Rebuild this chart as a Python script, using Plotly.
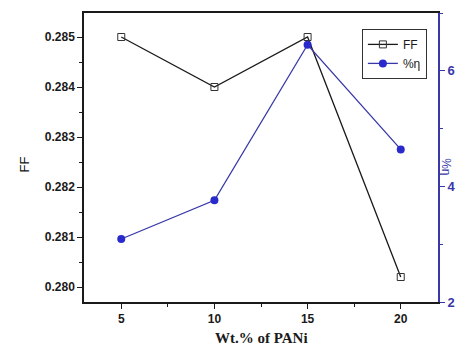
import plotly.graph_objects as go

wt = [5, 10, 15, 20]
ff = [0.285, 0.284, 0.285, 0.2802]
eta = [3.09, 3.76, 6.45, 4.64]

blue = "#2a2acc"
axblue = "#3838a8"
black = "#1a1a1a"

fig = go.Figure()
fig.add_trace(go.Scatter(x=wt, y=ff, name="FF", mode="lines+markers",
                         line=dict(color=black, width=1.3),
                         marker=dict(symbol="square-open", size=7, color="#333333", line=dict(width=1))))
fig.add_trace(go.Scatter(x=wt, y=eta, name="%η", mode="lines+markers", yaxis="y2",
                         line=dict(color=axblue, width=1.3),
                         marker=dict(symbol="circle", size=8, color=blue)))

tickfont = dict(family="Arial, Liberation Sans", size=12, color=black)
fig.update_layout(
    width=475, height=347,
    margin=dict(l=84, r=37, t=13, b=45, autoexpand=False),
    paper_bgcolor="white", plot_bgcolor="white",
    showlegend=True,
    legend=dict(x=0.785, y=0.945, xanchor="left", yanchor="top",
                bordercolor="#333333", borderwidth=1, bgcolor="white",
                font=dict(family="Arial, Liberation Sans", size=12, color=black),
                itemwidth=30, tracegroupgap=0),
    xaxis=dict(range=[3, 22], tickvals=wt, ticktext=[f"<b>{v}</b>" for v in wt],
               ticks="outside", ticklen=5, tickcolor=black, automargin=False,
               showline=True, linecolor=black, linewidth=1.5, mirror=True,
               showgrid=False, zeroline=False, tickfont=tickfont,
               minor=dict(tickvals=[7.5, 12.5, 17.5], ticks="outside", ticklen=3, tickcolor=black)),
    yaxis=dict(range=[0.2797, 0.28548], tick0=0.280, dtick=0.001, tickformat=".3f",
               ticks="outside", ticklen=5, tickcolor=black, automargin=False,
               showline=True, linecolor=black, linewidth=1.5,
               showgrid=False, zeroline=False,
               tickfont=tickfont,
               tickprefix="<b>", ticksuffix="</b>",
               minor=dict(dtick=0.0005, ticks="outside", ticklen=3, tickcolor=black)),
    yaxis2=dict(range=[2, 7], tick0=2, dtick=2, overlaying="y", side="right",
                ticks="outside", ticklen=5, tickcolor=axblue, automargin=False,
                showline=True, linecolor=axblue, linewidth=2,
                showgrid=False, zeroline=False,
                tickfont=dict(family="Arial, Liberation Sans", size=13, color=axblue),
                tickprefix="<b>", ticksuffix="</b>",
                minor=dict(dtick=1, ticks="outside", ticklen=3, tickcolor=axblue)),
)
fig.add_annotation(text="<b>Wt.% of PANi</b>", xref="paper", yref="paper", x=0.5, y=-0.1246,
                   yanchor="middle", showarrow=False,
                   font=dict(family="Liberation Serif, Times New Roman", size=15, color=black))
fig.add_annotation(text="FF", xref="paper", yref="paper", x=0, xshift=-69, y=0.474,
                   textangle=-90, showarrow=False,
                   font=dict(family="Arial, Liberation Sans", size=13, color="#111111"))
fig.add_annotation(text="%η", xref="paper", yref="paper", x=1.0, xshift=17, y=0.47,
                   textangle=90, showarrow=False,
                   font=dict(family="Arial, Liberation Sans", size=12, color=axblue))
fig.write_html("out.html", config={"displayModeBar": False},
               post_script="document.body.style.margin='0';document.body.style.overflow='hidden';")
